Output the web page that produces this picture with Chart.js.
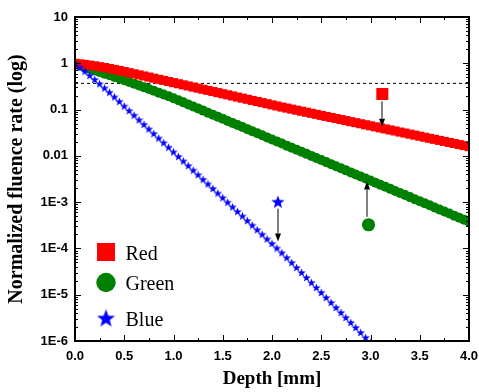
<!DOCTYPE html>
<html><head><meta charset="utf-8">
<script src="https://cdn.jsdelivr.net/npm/chart.js@4.4.0/dist/chart.umd.min.js"></script>
<style>html,body{margin:0;padding:0;background:#fff;}canvas{display:block;}</style>
</head><body>
<canvas id="c" width="479" height="392"></canvas>
<script>
// ---- data ----
const depth = [0,0.05,0.1,0.15,0.2,0.25,0.3,0.35,0.4,0.45,0.5,0.55,0.6,0.65,0.7,0.75,0.8,0.85,0.9,0.95,1,1.05,1.1,1.15,1.2,1.25,1.3,1.35,1.4,1.45,1.5,1.55,1.6,1.65,1.7,1.75,1.8,1.85,1.9,1.95,2,2.05,2.1,2.15,2.2,2.25,2.3,2.35,2.4,2.45,2.5,2.55,2.6,2.65,2.7,2.75,2.8,2.85,2.9,2.95,3,3.05,3.1,3.15,3.2,3.25,3.3,3.35,3.4,3.45,3.5,3.55,3.6,3.65,3.7,3.75,3.8,3.85,3.9,3.95,4];
// log10 of normalized fluence rate
const redLog = [0,-0.012,-0.025,-0.040,-0.056,-0.073,-0.092,-0.112,-0.133,-0.155,-0.178,-0.202,-0.226,-0.250,-0.274,-0.298,-0.322,-0.346,-0.370,-0.394,-0.418,
 -0.442,-0.466,-0.490,-0.514,-0.538,-0.562,-0.586,-0.610,-0.634,-0.658,-0.682,-0.706,-0.730,-0.754,-0.778,-0.802,-0.826,-0.850,-0.874,-0.898,-0.922,-0.946,
 -0.968,-0.991,-1.013,-1.036,-1.058,-1.081,-1.103,-1.126,-1.148,-1.171,-1.193,-1.216,-1.238,-1.261,-1.283,-1.306,-1.328,-1.351,-1.373,-1.396,-1.418,-1.441,-1.463,-1.486,-1.508,-1.531,-1.553,-1.576,-1.598,-1.621,-1.643,-1.666,-1.688,-1.711,-1.733,-1.756,-1.778,-1.800];
const greenLog = [-0.02,-0.05,-0.085,-0.12,-0.155,-0.19,-0.225,-0.26,-0.295,-0.33,-0.366,-0.403,-0.44,-0.478,-0.516,-0.555,-0.594,-0.634,-0.674,-0.714,-0.755,
 -0.800,-0.844,-0.889,-0.933,-0.978,-1.022,-1.067,-1.111,-1.156,-1.200,-1.245,-1.289,-1.334,-1.378,-1.423,-1.467,-1.512,-1.556,-1.601,-1.645,
 -1.690,-1.734,-1.779,-1.823,-1.868,-1.912,-1.957,-2.001,-2.046,-2.090,-2.135,-2.179,-2.224,-2.268,-2.313,-2.357,-2.402,-2.446,-2.491,-2.535,
 -2.580,-2.624,-2.669,-2.713,-2.758,-2.802,-2.847,-2.891,-2.936,-2.980,-3.025,-3.069,-3.114,-3.158,-3.203,-3.247,-3.292,-3.336,-3.381,-3.425];
const blueLog = [0,-0.085,-0.172,-0.260,-0.350,-0.441,-0.533,-0.627,-0.725,-0.824,-0.923,-1.022,-1.121,-1.220,-1.319,-1.418,-1.517,-1.616,-1.715,-1.814,-1.913,
 -2.012,-2.111,-2.210,-2.309,-2.408,-2.507,-2.606,-2.705,-2.804,-2.903,-3.002,-3.101,-3.200,-3.299,-3.398,-3.497,-3.596,-3.695,-3.794,-3.893,-3.992,-4.093,
 -4.198,-4.305,-4.412,-4.520,-4.628,-4.736,-4.844,-4.952,-5.060,-5.168,-5.276,-5.384,-5.492,-5.600,-5.708,-5.816,-5.924,-6.032];
const dashedLevel = 0.368;
const markerLabels = ['Red','Green','Blue'];
const markerX = [3.12, 2.98, 2.06];
const markerY = [0.217, 3.25e-4, 1.02e-3];
const arrowX = [3.12, 2.96, 2.06];
const arrowFrom = [0.152, 4.84e-4, 7.2e-4];
const arrowTo = [0.0426, 2.79e-3, 1.42e-4];
const yTickValues = [1e-6,1e-5,1e-4,1e-3,1e-2,1e-1,1,10];
const yTickLabels = ['1E-6','1E-5','1E-4','1E-3','0.01','0.1','1','10'];
const xTickValues = [0,0.5,1,1.5,2,2.5,3,3.5,4];
const xTickLabels = ['0.0','0.5','1.0','1.5','2.0','2.5','3.0','3.5','4.0'];

// ---- styling ----
const RED='#ff0000', GREEN='#008000', BLUE='#0000ff';
function starCanvas(d, color){
  const c=document.createElement('canvas'); c.width=c.height=d;
  const g=c.getContext('2d'); const R=d/2, r=R*0.42, cx=d/2, cy=d/2+R*0.09;
  g.beginPath();
  for(let i=0;i<10;i++){const a=-Math.PI/2+i*Math.PI/5; const rr=(i%2)?r:R; g.lineTo(cx+rr*Math.cos(a), cy+rr*Math.sin(a));}
  g.closePath(); g.fillStyle=color; g.fill(); return c;
}
const starSmall = starCanvas(9, BLUE), starMid = starCanvas(14, BLUE);

const toPts = (arr)=>arr.map((v,i)=>({x:depth[i], y:Math.pow(10,v)}));

const overlay = {
  id:'overlay',
  afterDatasetsDraw(chart){
    const {ctx, scales:{x,y}} = chart;
    ctx.save();
    for(let i=0;i<arrowX.length;i++){
      const px=Math.round(x.getPixelForValue(arrowX[i]));
      const y0=y.getPixelForValue(arrowFrom[i]), y1=y.getPixelForValue(arrowTo[i]);
      const dir = y1>y0?1:-1, hl=8, hw=3;
      ctx.strokeStyle='#808080'; ctx.lineWidth=2;
      ctx.beginPath(); ctx.moveTo(px,y0); ctx.lineTo(px,y1-dir*hl); ctx.stroke();
      ctx.fillStyle='#000';
      ctx.beginPath(); ctx.moveTo(px,y1); ctx.lineTo(px-hw,y1-dir*hl); ctx.lineTo(px+hw,y1-dir*hl); ctx.closePath(); ctx.fill();
    }
    ctx.restore();
  },
  afterDraw(chart){
    const {ctx, chartArea:a, scales:{x,y}} = chart;
    ctx.save();
    ctx.strokeStyle='#000'; ctx.lineWidth=1;
    ctx.beginPath();
    for(let k=0;k<=16;k++){
      const v=k*0.25; const px=Math.round(x.getPixelForValue(v))+0.5; const L=(k%2===0)?6:3;
      ctx.moveTo(px,a.bottom); ctx.lineTo(px,a.bottom-L);
      ctx.moveTo(px,a.top); ctx.lineTo(px,a.top+L);
    }
    const yv=[];
    for(let e=-6;e<=0;e++){for(let m=1;m<10;m++) yv.push([m*Math.pow(10,e), m===1]);}
    yv.push([10,true]);
    for(const [v,maj] of yv){
      const py=Math.round(y.getPixelForValue(v))+0.5; const L=maj?6:3;
      ctx.moveTo(a.left,py); ctx.lineTo(a.left+L,py);
      ctx.moveTo(a.right,py); ctx.lineTo(a.right-L,py);
    }
    ctx.stroke();
    ctx.lineWidth=2;
    ctx.strokeRect(a.left, a.top, a.right-a.left, a.bottom-a.top);
    // legend
    const lx=106, ly=[252,282.5,318];
    ctx.fillStyle=RED; ctx.fillRect(lx-9, ly[0]-9, 18, 18);
    ctx.fillStyle=GREEN; ctx.beginPath(); ctx.arc(lx, ly[1], 9.7, 0, Math.PI*2); ctx.fill();
    const st=starCanvas(19, BLUE); ctx.drawImage(st, lx-9.5, ly[2]-9.5);
    ctx.fillStyle='#000'; ctx.font='20px "Liberation Serif"'; ctx.textBaseline='alphabetic'; ctx.textAlign='left';
    const base=[259.5,289.5,326];
    markerLabels.forEach((t,i)=>ctx.fillText(t, 125.5, base[i]));
    ctx.restore();
  }
};

const tickFont = {family:'"Liberation Sans"', weight:'bold', size:13};
const titleFont = {family:'"Liberation Serif"', weight:'bold', size:20};

new Chart(document.getElementById('c'), {
  type:'scatter',
  data:{datasets:[
    {label:'Blue curve', data: depth.slice(0, blueLog.length).map((d,i)=>({x:d, y:Math.pow(10,blueLog[i])})),
     pointStyle: starSmall, pointRadius:4.5, showLine:false, order:1, clip:0},
    {label:'Red curve', data: toPts(redLog), pointStyle:'rect', pointRadius:6.4, backgroundColor:RED, borderWidth:0, pointBorderWidth:0, showLine:false, order:2, clip:0},
    {label:'Green curve', data: toPts(greenLog), pointStyle:'circle', pointRadius:5, backgroundColor:GREEN, borderWidth:0, pointBorderWidth:0, showLine:false, order:3, clip:0},
    {label:'1/e', data:[{x:0,y:dashedLevel},{x:4,y:dashedLevel}], showLine:true, borderColor:'#000', borderWidth:1, borderDash:[3,3], pointRadius:0, order:4},
    {label:'Red point', data:[{x:markerX[0], y:markerY[0]}], pointStyle:'rect', pointRadius:8.5, backgroundColor:RED, pointBorderWidth:0, order:0},
    {label:'Green point', data:[{x:markerX[1], y:markerY[1]}], pointStyle:'circle', pointRadius:6.6, backgroundColor:GREEN, pointBorderWidth:0, order:0},
    {label:'Blue point', data:[{x:markerX[2], y:markerY[2]}], pointStyle:starMid, pointRadius:7, order:0}
  ]},
  options:{
    responsive:false, animation:false, events:[],
    layout:{padding:{top:17, right:10, left:0, bottom:0}},
    plugins:{legend:{display:false}, tooltip:{enabled:false}},
    scales:{
      x:{type:'linear', min:0, max:4,
        afterBuildTicks:s=>{s.ticks=xTickValues.map(v=>({value:v}));},
        afterFit:s=>{s.height=51; s.paddingLeft=0; s.paddingRight=0;},
        grid:{display:false, drawTicks:false}, border:{display:false},
        ticks:{callback:(v,i)=>xTickLabels[i], autoSkip:false, maxRotation:0, padding:8, font:tickFont, color:'#000'},
        title:{display:true, text:'Depth [mm]', font:{family:'"Liberation Serif"', weight:'bold', size:19}, color:'#000', padding:{top:0,bottom:2}}
      },
      y:{type:'logarithmic', min:1e-6, max:10,
        afterBuildTicks:s=>{s.ticks=yTickValues.map(v=>({value:v}));},
        afterFit:s=>{s.width=75; s.paddingTop=0; s.paddingBottom=0;},
        grid:{display:false, drawTicks:false}, border:{display:false},
        ticks:{callback:(v,i)=>yTickLabels[i], autoSkip:false, padding:7, font:tickFont, color:'#000'},
        title:{display:true, text:'Normalized fluence rate (log)', font:titleFont, color:'#000', padding:{top:5,bottom:0}}
      }
    }
  },
  plugins:[overlay]
});
</script>
</body></html>
